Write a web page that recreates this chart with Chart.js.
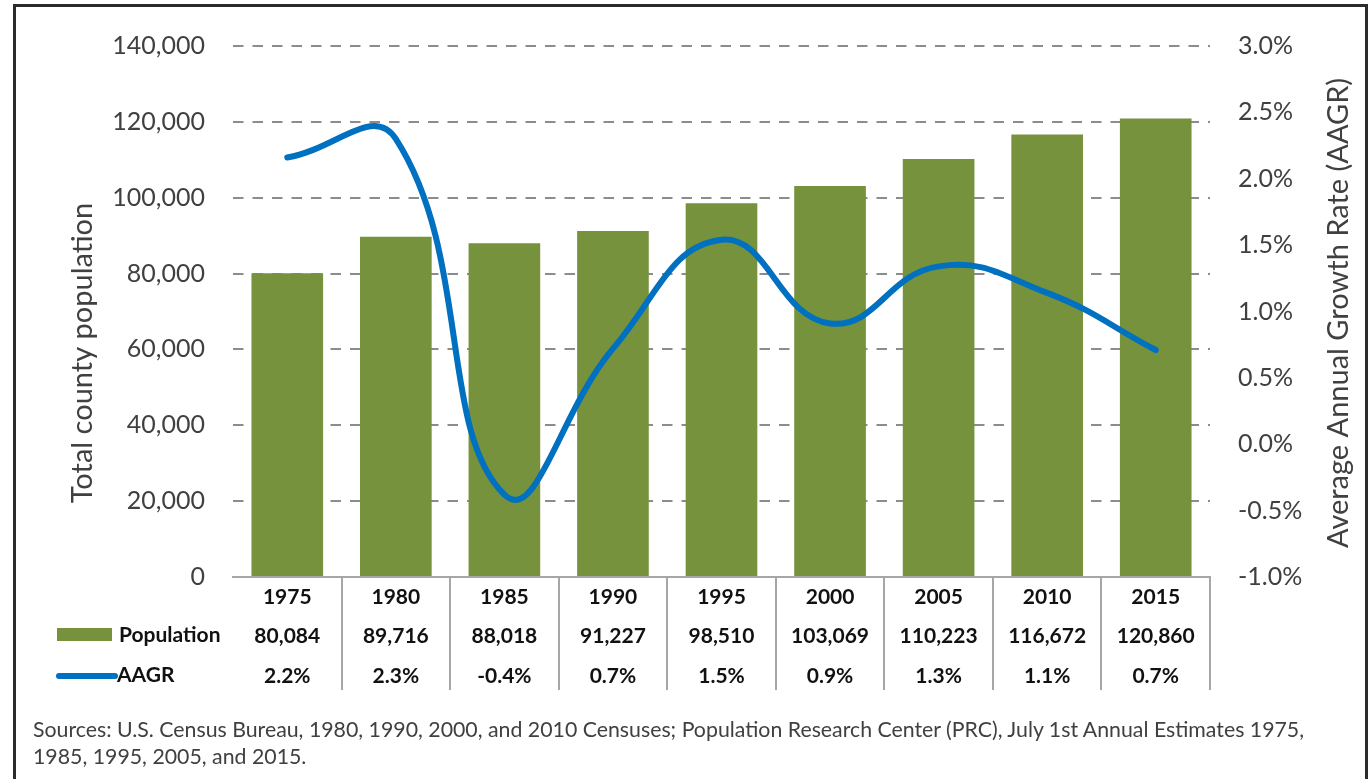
<!DOCTYPE html>
<html>
<head>
<meta charset="utf-8">
<title>County population and AAGR</title>
<script src="https://cdn.jsdelivr.net/npm/chart.js@4.4.1/dist/chart.umd.min.js"></script>
<style>
  html, body { margin: 0; padding: 0; background: #fff; }
  body { width: 1370px; height: 779px; position: relative; overflow: hidden; }
  #chart { position: absolute; left: 0; top: 0; }
  #frame { position: absolute; left: 13px; top: 4px; width: 1355px; height: 820px;
           border: 3px solid #2b2b2b; box-sizing: border-box; pointer-events: none; }
  #sources { position: absolute; left: 33px; top: 716px; font: 21.3px Lato, sans-serif;
             color: #404040; line-height: 27px; white-space: nowrap; }
</style>
</head>
<body>
<canvas id="chart" width="1370" height="779"></canvas>
<div id="frame"></div>
<div id="sources">
  <div>Sources: U.S. Census Bureau, 1980, 1990, 2000, and 2010 Censuses; Population Research Center (PRC), July 1st Annual Estimates 1975,</div>
  <div>1985, 1995, 2005, and 2015.</div>
</div>
<script>
// datos
const years = ['1975', '1980', '1985', '1990', '1995', '2000', '2005', '2010', '2015'];
const population = [80084, 89716, 88018, 91227, 98510, 103069, 110223, 116672, 120860];
const aagr = [2.16, 2.30, -0.38, 0.72, 1.54, 0.91, 1.34, 1.14, 0.71];
const popTicks = [0, 20000, 40000, 60000, 80000, 100000, 120000, 140000];
const aagrTicks = [-1.0, -0.5, 0.0, 0.5, 1.0, 1.5, 2.0, 2.5, 3.0];

const leftTitle = 'Total county population';
const rightTitle = 'Average Annual Growth Rate (AAGR)';

const GREEN = '#76923C';
const BLUE = '#0070C0';
const TEXT = '#404040';
const GRID = '#8c8c8c';
const RULE = '#a6a6a6';

// filas de la tabla bajo el eje
const tableLabels = years.map((y, i) => [
  y,
  population[i].toLocaleString('en-US'),
  aagr[i].toFixed(1) + '%'
]);

const hidden = 'rgba(0,0,0,0)';

// titulos de ejes, ambos leidos de abajo hacia arriba
function drawVertical(ctx, text, x, y) {
  ctx.save();
  ctx.fillStyle = TEXT;
  ctx.font = '29px Lato, sans-serif';
  ctx.textAlign = 'center';
  ctx.textBaseline = 'middle';
  ctx.translate(x, y);
  ctx.rotate(-Math.PI / 2);
  ctx.fillText(text, 0, 0);
  ctx.restore();
}

const axisTitles = {
  id: 'axisTitles',
  afterDraw(chart) {
    drawVertical(chart.ctx, leftTitle, 83, 353);
    drawVertical(chart.ctx, rightTitle, 1339, 313);
  }
};

// claves de leyenda a la izquierda de la tabla
const tableLegend = {
  id: 'tableLegend',
  afterDraw(chart) {
    const ctx = chart.ctx;
    const top = chart.scales.x.top;
    const bars = chart.data.datasets.find(d => d.type === 'bar');
    const line = chart.data.datasets.find(d => d.type === 'line');
    ctx.save();
    ctx.font = 'bold 21px Lato, sans-serif';
    ctx.textBaseline = 'middle';

    ctx.fillStyle = bars.backgroundColor;
    ctx.fillRect(57, top + 51, 55, 13);
    ctx.fillStyle = '#111';
    ctx.fillText(bars.label, 119, top + 58);

    ctx.strokeStyle = line.borderColor;
    ctx.lineWidth = 6;
    ctx.lineCap = 'round';
    ctx.beginPath();
    ctx.moveTo(59, top + 99);
    ctx.lineTo(115, top + 99);
    ctx.stroke();
    ctx.fillText(line.label, 117, top + 98);
    ctx.restore();
  }
};

new Chart(document.getElementById('chart'), {
  data: {
    labels: tableLabels,
    datasets: [
      {
        type: 'line',
        label: 'AAGR',
        data: aagr,
        yAxisID: 'y1',
        borderColor: BLUE,
        borderWidth: 6,
        borderCapStyle: 'round',
        tension: 0.45,
        pointRadius: 0,
        fill: false,
        order: 0
      },
      {
        type: 'bar',
        label: 'Population',
        data: population,
        yAxisID: 'y',
        backgroundColor: GREEN,
        barPercentage: 0.66,
        categoryPercentage: 1,
        order: 1
      }
    ]
  },
  options: {
    responsive: false,
    animation: false,
    devicePixelRatio: 1,
    layout: { padding: { top: 46, left: 0, right: 0, bottom: 0 } },
    plugins: { legend: { display: false }, tooltip: { enabled: false } },
    scales: {
      x: {
        type: 'category',
        offset: true,
        afterFit: s => { s.height = 202; },
        grid: {
          offset: true,
          drawOnChartArea: false,
          drawTicks: true,
          tickLength: 113,
          lineWidth: 2,
          color: c => (c.index === 0 || c.index === years.length) ? hidden : RULE
        },
        border: { display: true, color: RULE, width: 2 },
        ticks: {
          autoSkip: false,
          maxRotation: 0,
          padding: -113,
          color: '#111',
          font: { family: 'Lato', size: 21, weight: 'bold', lineHeight: '39.5px' }
        }
      },
      y: {
        position: 'left',
        min: popTicks[0],
        max: popTicks[popTicks.length - 1],
        afterBuildTicks: s => { s.ticks = popTicks.map(v => ({ value: v })); },
        afterFit: s => { s.width = 233; },
        grid: {
          drawTicks: false,
          lineWidth: 2,
          color: c => (c.tick && c.tick.value === 0) ? hidden : GRID
        },
        border: { display: false, dash: [10.5, 9] },
        ticks: {
          padding: 28,
          color: TEXT,
          font: { family: 'Lato', size: 25 },
          callback: v => v.toLocaleString('en-US')
        }
      },
      y1: {
        position: 'right',
        min: aagrTicks[0],
        max: aagrTicks[aagrTicks.length - 1],
        afterBuildTicks: s => { s.ticks = aagrTicks.map(v => ({ value: v })); },
        afterFit: s => { s.width = 160; },
        grid: { drawOnChartArea: false, drawTicks: false },
        border: { display: false },
        ticks: {
          padding: 28,
          color: TEXT,
          font: { family: 'Lato', size: 25 },
          callback: v => v.toFixed(1) + '%'
        }
      }
    }
  },
  plugins: [axisTitles, tableLegend]
});
</script>
</body>
</html>
